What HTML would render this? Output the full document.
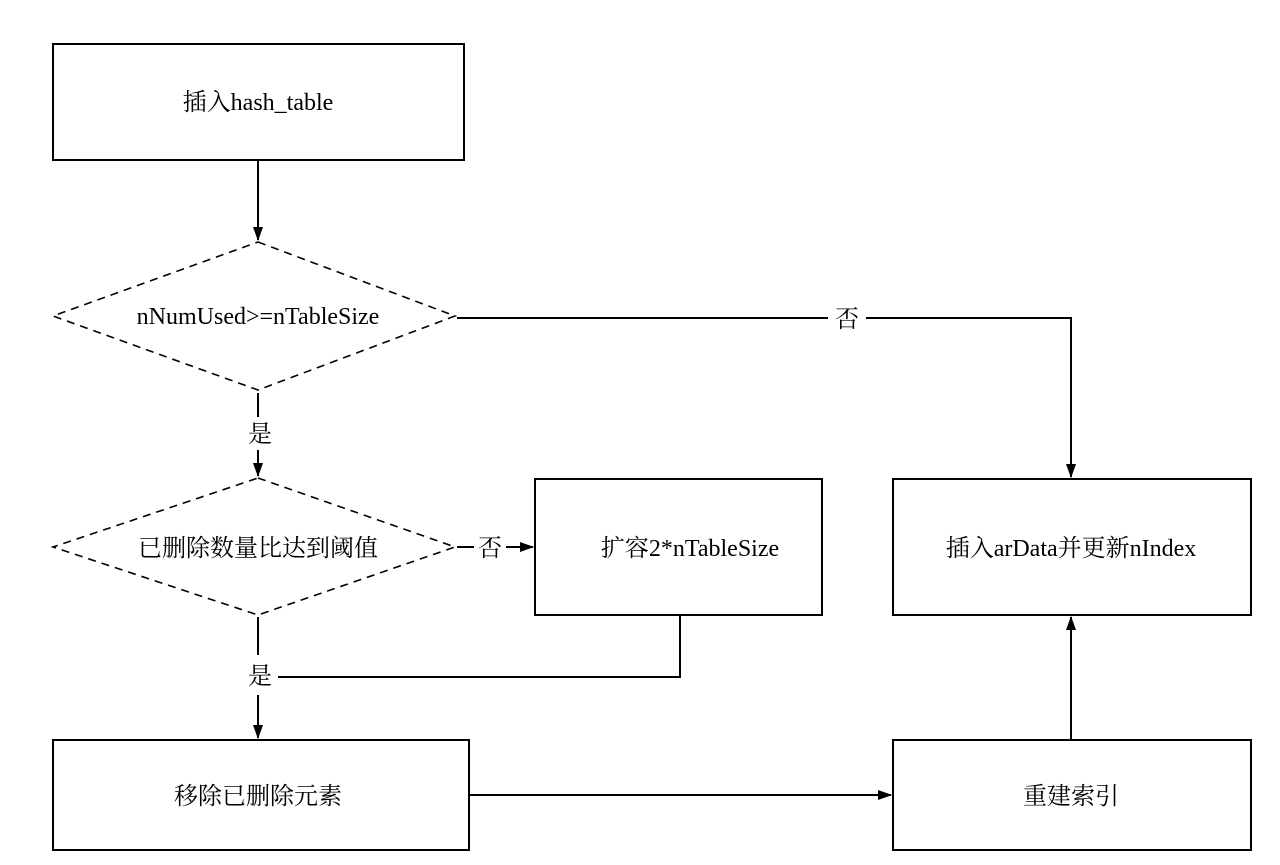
<!DOCTYPE html>
<html><head><meta charset="utf-8"><style>
html,body{margin:0;padding:0;background:#fff;}
svg{display:block;}
text{font-family:"Liberation Serif","Noto Serif CJK SC","Noto Sans CJK SC",serif;font-size:24px;fill:#000;}
</style></head><body>
<svg width="1280" height="865" viewBox="0 0 1280 865" xmlns="http://www.w3.org/2000/svg">
<defs><marker id="a" markerWidth="14" markerHeight="10" refX="13" refY="5" orient="auto" markerUnits="userSpaceOnUse"><path d="M0,0 L14,5 L0,10 z" fill="#000"/></marker></defs>
<g fill="none" stroke="#000" stroke-width="2">
<rect x="53" y="44" width="411" height="116"/>
<rect x="535" y="479" width="287" height="136"/>
<rect x="893" y="479" width="358" height="136"/>
<rect x="53" y="740" width="416" height="110"/>
<rect x="893" y="740" width="358" height="110"/>
<g stroke-dasharray="8,6" stroke-width="1.6">
<path d="M258,242 L455,316 L258,390 L53,316 Z"/>
<path d="M258,478 L455,547 L258,615 L53,547 Z"/>
</g>
<line x1="258" y1="160" x2="258" y2="240" marker-end="url(#a)"/>
<line x1="258" y1="393" x2="258" y2="417"/>
<line x1="258" y1="450" x2="258" y2="476" marker-end="url(#a)"/>
<line x1="457" y1="318" x2="828" y2="318"/>
<polyline points="866,318 1071,318 1071,477" marker-end="url(#a)"/>
<line x1="457" y1="547" x2="474" y2="547"/>
<line x1="506" y1="547" x2="533" y2="547" marker-end="url(#a)"/>
<line x1="258" y1="617" x2="258" y2="655"/>
<polyline points="278,677 680,677 680,615"/>
<line x1="258" y1="695" x2="258" y2="738" marker-end="url(#a)"/>
<line x1="469" y1="795" x2="891" y2="795" marker-end="url(#a)"/>
<line x1="1071" y1="740" x2="1071" y2="617" marker-end="url(#a)"/>
</g>
<g text-anchor="middle" dominant-baseline="central">
<text x="258" y="103">插入hash_table</text>
<text x="258" y="317">nNumUsed&gt;=nTableSize</text>
<text x="847" y="320">否</text>
<text x="260" y="435">是</text>
<text x="258" y="549">已删除数量比达到阈值</text>
<text x="490" y="549">否</text>
<text x="690" y="549">扩容2*nTableSize</text>
<text x="1071" y="549">插入arData并更新nIndex</text>
<text x="260" y="677">是</text>
<text x="258" y="797">移除已删除元素</text>
<text x="1071" y="797">重建索引</text>
</g>
</svg>
</body></html>
